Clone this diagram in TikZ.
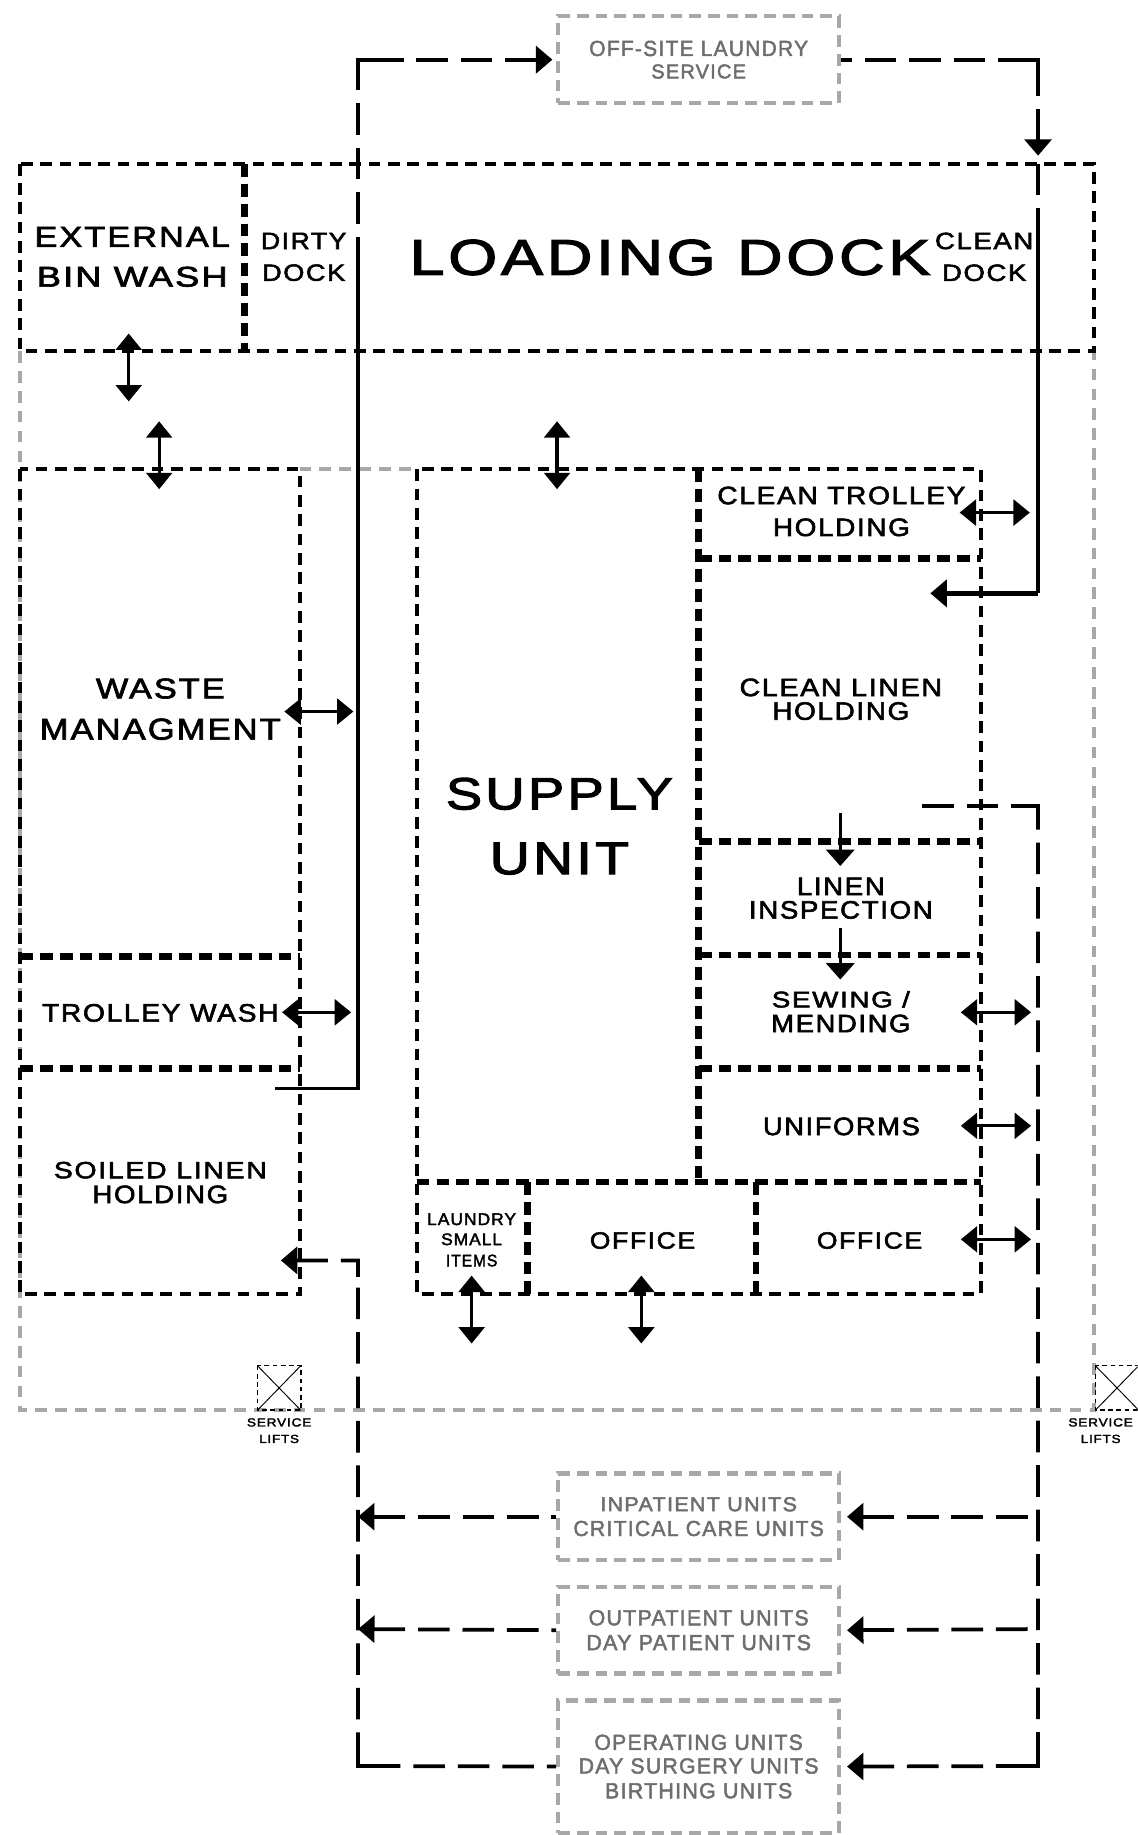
\documentclass[tikz,border=0pt]{standalone}
\usepackage{fontspec}
\usepackage{graphicx}
\usetikzlibrary{arrows.meta,calc}
\newfontfamily\bgf[LetterSpace=6,FakeBold=2.2]{Liberation Sans}
\newcommand{\ft}[3]{\resizebox{#1pt}{#2pt}{\bgf #3}}
\newcommand{\cornerstub}[3]{\draw[flow,line join=miter] ($(#1)+(#2,0)$) -- (#1) -- ($(#1)+(0,#3)$);}
\definecolor{linegray}{HTML}{A8A8A8}
\definecolor{textgray}{HTML}{6E6E6E}
\tikzset{
  x=1pt,y=-1pt,
  lbl/.style={inner sep=0pt,outer sep=0pt,align=center,font=\fontsize{10pt}{0pt}\selectfont,text=black},
  grayrun/.style={draw=linegray,line width=3.6pt,dash pattern=on 10pt off 7pt},
  graybox/.style={rectangle,draw=linegray,line width=3.6pt,dash pattern=on 10pt off 6pt,minimum width=240pt,text=textgray,inner sep=0pt,align=center,font=\fontsize{10pt}{0pt}\selectfont},
  wall/.style={draw=black,line width=3.3pt,dash pattern=on 10pt off 6.5pt},
  thickwall/.style={draw=black,line width=5.8pt,dash pattern=on 11pt off 6pt},
  flow/.style={draw=black,line width=3.2pt},
  flowdash/.style={draw=black,line width=3.2pt,dash pattern=on 27pt off 11pt},
  headstart/.style={{Triangle[length=14pt,width=23pt]}-},
  twoway/.style={draw=black,line width=2.8pt,{Triangle[length=14pt,width=22pt]}-{Triangle[length=14pt,width=22pt]}},
  oneway/.style={draw=black,line width=2.8pt,-{Triangle[length=14pt,width=24pt]}},
  liftbox/.style={draw=black,line width=1.3pt,dash pattern=on 4pt off 3pt},
  liftx/.style={draw=black,line width=.8pt},
}
\begin{document}
\begin{tikzpicture}
\useasboundingbox (0,0) rectangle (972,1568);
\clip (0,0) rectangle (972,1568);

% outer gray building outline
\coordinate (gNW) at (17,300);
\coordinate (gSW) at (17,1205);
\coordinate (gSE) at (935,1205);
\coordinate (gNE) at (935,300);
\draw[grayrun] (gNW) -- (gSW) -- (gSE) -- (gNE);
\draw[grayrun] (256,401) -- (356,401);

% service lifts
\draw[liftbox] (220,1167) rectangle (257,1205);
\draw[liftx] (220,1167) -- (257,1205) (257,1167) -- (220,1205);
\draw[liftbox] (936,1167) rectangle (973,1205);
\draw[liftx] (936,1167) -- (973,1205) (973,1167) -- (936,1205);

% rooms
\draw[wall] (17,140) rectangle (935,300);
\draw[thickwall] (209,140) -- (209,300);
\draw[wall] (17,401) rectangle (256,1106);
\draw[thickwall] (17,817) -- (256,817);
\draw[thickwall] (17,913) -- (256,913);
\draw[wall] (356,401) rectangle (838,1106);
\draw[thickwall] (597,401) -- (597,1010);
\draw[thickwall] (597,477) -- (838,477);
\draw[thickwall] (597,719) -- (838,719);
\draw[thickwall] (597,816) -- (838,816);
\draw[thickwall] (597,913) -- (838,913);
\draw[thickwall] (356,1010) -- (838,1010);
\draw[thickwall] (451,1010) -- (451,1106);
\draw[thickwall] (646,1010) -- (646,1106);

% gray service boxes
\node[graybox,minimum height=74pt] (off) at (597,51) {\ft{187}{13}{OFF-SITE LAUNDRY}\\[6pt]\ft{81}{12}{SERVICE}};
\node[graybox,minimum height=74pt] (inp) at (597,1296) {\ft{168}{12}{INPATIENT UNITS}\\[7pt]\ft{214}{13}{CRITICAL CARE UNITS}};
\node[graybox,minimum height=74pt] (outp) at (597,1393) {\ft{188}{13}{OUTPATIENT UNITS}\\[7pt]\ft{192}{13}{DAY PATIENT UNITS}};
\node[graybox,minimum height=113pt] (oper) at (597,1509.5) {\ft{178}{13}{OPERATING UNITS}\\[6pt]\ft{205}{13}{DAY SURGERY UNITS}\\[7pt]\ft{160}{13}{BIRTHING UNITS}};

% dirty route
\coordinate (soilStart) at (235,930);
\coordinate (dirtyA) at (306,205);
\coordinate (dirtyB) at (306,51);
\coordinate (offIn) at (472,51);
\draw[flow,line join=miter] (soilStart) -| (dirtyA);
\draw[flowdash,headstart] (offIn) -- (dirtyB) -- (dirtyA);
\cornerstub{dirtyB}{14}{14}

% clean route
\coordinate (cleanA) at (887,51);
\coordinate (cleanB) at (887,133);
\coordinate (cleanD) at (887,205);
\coordinate (cleanE) at (887,507);
\coordinate (cleanEnd) at (795,507);
\draw[flowdash,headstart] (cleanB) -- (cleanA) -- (off.east);
\cornerstub{cleanA}{-14}{14}
\draw[flowdash] (cleanD) -- (cleanB);
\draw[flow] (cleanD) -- (cleanE);
\draw[flow,headstart,line width=3.8pt] (cleanEnd) -- (cleanE);

% clean distribution
\coordinate (distA) at (788,689);
\coordinate (distB) at (887,689);
\coordinate (distC) at (887,1509);
\coordinate (distIn) at (887,1296);
\coordinate (distOut) at (887,1392);
\draw[flowdash] (distA) -- (distB);
\draw[flowdash,headstart] ([xshift=5pt]oper.east) -- (distC) -- (distB);
\cornerstub{distB}{-14}{14}
\cornerstub{distC}{-14}{-14}
\draw[flowdash,headstart] ([xshift=5pt]inp.east) -- (distIn);
\draw[flowdash,headstart] ([xshift=5pt]outp.east) -- (distOut);

% soiled return
\coordinate (retA) at (306,1509);
\coordinate (retB) at (306,1077);
\coordinate (retEnd) at (240,1077);
\coordinate (retIn) at (306,1296);
\coordinate (retOut) at (306,1392);
\draw[flowdash,headstart] (retEnd) -- (retB) -- (retA) -- (oper.west);
\cornerstub{retA}{14}{-14}
\cornerstub{retB}{-14}{14}
\draw[flowdash,headstart] (retIn) -- (inp.west);
\draw[flowdash,headstart] (retOut) -- (outp.west);

% two-way arrows
\draw[twoway] (110,285) -- (110,343);
\draw[twoway] (136,360) -- (136,418);
\draw[twoway] (476,360) -- (476,418);
\draw[twoway] (820,438) -- (880,438);
\draw[twoway] (243,608) -- (302,608);
\draw[twoway] (241,865) -- (300,865);
\draw[twoway] (821,865) -- (881,865);
\draw[twoway] (821,962) -- (881,962);
\draw[twoway] (821,1059) -- (881,1059);
\draw[twoway] (403,1090) -- (403,1148);
\draw[twoway] (548,1090) -- (548,1148);
\draw[oneway] (718,695) -- (718,740);
\draw[oneway] (718,793) -- (718,837);

% labels
\node[lbl] (tBin) at (113,219.5) {\ft{167}{17}{EXTERNAL}\\[16pt]\ft{163}{17}{BIN WASH}};
\node[lbl] (tDirty) at (259.5,219.5) {\ft{73}{14}{DIRTY}\\[12pt]\ft{71}{14}{DOCK}};
\node[lbl] (tDock) at (572.5,220) {\ft{445}{30}{LOADING DOCK}};
\node[lbl] (tClean) at (841,219.5) {\ft{84}{14}{CLEAN}\\[12pt]\ft{72}{14}{DOCK}};
\node[lbl] (tTrolley) at (719,437) {\ft{212}{15}{CLEAN TROLLEY}\\[11pt]\ft{117}{15}{HOLDING}};
\node[lbl] (tHold) at (718.5,597.5) {\ft{173}{15}{CLEAN LINEN}\\[4pt]\ft{117}{15}{HOLDING}};
\node[lbl] (tWaste) at (137,606) {\ft{110}{17}{WASTE}\\[16pt]\ft{206}{18}{MANAGMENT}};
\node[lbl] (tSupply) at (478,706) {\ft{194}{27}{SUPPLY}\\[27pt]\ft{119}{27}{UNIT}};
\node[lbl] (tInsp) at (718.5,767.5) {\ft{75}{15}{LINEN}\\[4pt]\ft{157}{15}{INSPECTION}};
\node[lbl] (tSew) at (718.5,864.5) {\ft{118}{14}{SEWING /}\\[5pt]\ft{119}{15}{MENDING}};
\node[lbl] (tUni) at (719,962.5) {\ft{134}{15}{UNIFORMS}};
\node[lbl] (tWash) at (137,865.5) {\ft{202}{15}{TROLLEY WASH}};
\node[lbl] (tSoil) at (137,1010.5) {\ft{182}{14}{SOILED LINEN}\\[5pt]\ft{116}{15}{HOLDING}};
\node[lbl] (tSmall) at (403,1059.5) {\ft{76}{10}{LAUNDRY}\\[6pt]\ft{52}{10}{SMALL}\\[7pt]\ft{44}{10}{ITEMS}};
\node[lbl] (tOff) at (549,1060) {\ft{90}{14}{OFFICE}};
\node[lbl] (tOffB) at (743,1060) {\ft{90}{14}{OFFICE}};
\node[lbl] (tLift) at (238.5,1222.5) {\ft{55}{7}{SERVICE}\\[6pt]\ft{34}{7}{LIFTS}};
\node[lbl] (tLiftB) at (940.5,1222.5) {\ft{55}{7}{SERVICE}\\[6pt]\ft{34}{7}{LIFTS}};
\end{tikzpicture}
\end{document}
